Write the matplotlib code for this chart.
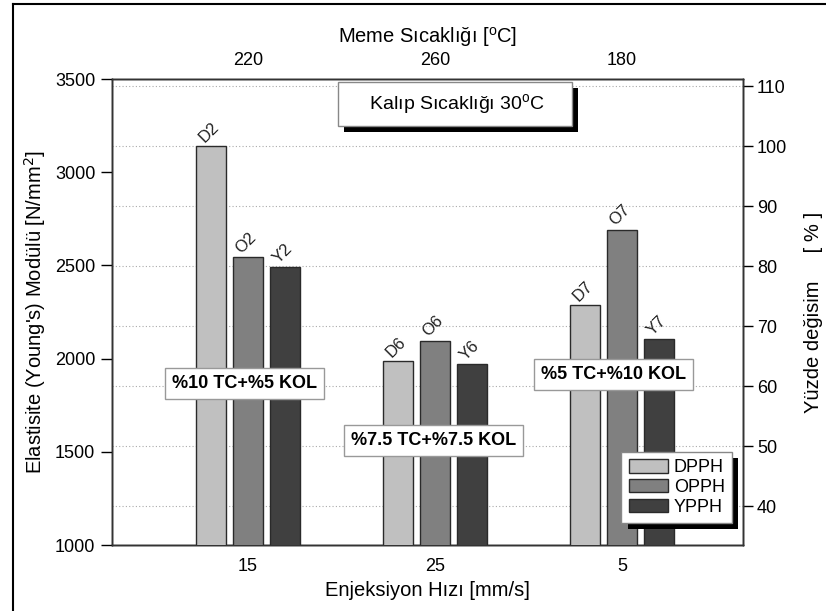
import matplotlib.pyplot as plt
import matplotlib.patheffects as pe
from matplotlib.lines import Line2D
from matplotlib.patches import Patch

plt.rcParams["font.family"] = ["Liberation Sans", "DejaVu Sans"]

# Injection speed groups (bottom axis) and nozzle temperatures (top axis)
speed_labels = ["15", "25", "5"]
nozzle_labels = ["220", "260", "180"]

# Young's modulus per blend, N/mm^2
series_names = ["DPPH", "OPPH", "YPPH"]
dpph = [3140, 1985, 2285]
opph = [2545, 2095, 2690]
ypph = [2490, 1970, 2105]
bar_tags = [["D2", "D6", "D7"], ["O2", "O6", "O7"], ["Y2", "Y6", "Y7"]]
bar_colors = ["#c0c0c0", "#808080", "#404040"]

group_notes = ["%10 TC+%5 KOL", "%7.5 TC+%7.5 KOL", "%5 TC+%10 KOL"]

fig = plt.figure(figsize=(8.26, 6.11), dpi=100)
ax = fig.add_axes([0.1356, 0.108, 0.7639, 0.7627])
ax_right = ax.twinx()
ax_top = ax.twiny()

# keep bars in front of the grid that belongs to the right axis
ax.set_zorder(ax_right.get_zorder() + 1)
ax.patch.set_visible(False)

width = 0.16
offsets = [-0.2, 0.0, 0.2]
positions = list(range(len(speed_labels)))
for values, tags, color, name, off in zip([dpph, opph, ypph], bar_tags,
                                          bar_colors, series_names, offsets):
    xs = [p + off for p in positions]
    ax.bar(xs, values, width=width, color=color, edgecolor="#2a2a2a",
           linewidth=1.0, label=name, zorder=3)
    for x, v, tag in zip(xs, values, tags):
        ax.annotate(tag, xy=(x, v), xytext=(-3, 1), textcoords="offset points",
                    rotation=45, rotation_mode="anchor", ha="left", va="bottom",
                    fontsize=12, color="#222222")

ax.set_xlim(-0.727, 2.647)
ax.set_ylim(1000, 3500)
ax.set_yticks([1000, 1500, 2000, 2500, 3000, 3500])
ax.set_xticks(positions)
ax.set_xticklabels(speed_labels)
ax.tick_params(axis="y", direction="out", length=8, width=1, labelsize=13, pad=4)
ax.tick_params(axis="x", length=0, labelsize=13, pad=9)
ax.set_xlabel("Enjeksiyon Hızı [mm/s]", fontsize=14.5, labelpad=5)
ax.set_ylabel("Elastisite (Young's) Modülü [N/mm$^2$]", fontsize=14.5, labelpad=5)

ax_right.set_ylim(33.5, 111.2)
ax_right.set_yticks([40, 50, 60, 70, 80, 90, 100, 110])
ax_right.tick_params(axis="y", direction="out", length=7, width=1, labelsize=13, pad=3)
ax_right.grid(axis="y", linestyle=(0, (1, 2)), color="#aaaaaa", linewidth=0.8)
ax_right.set_ylabel("Yüzde değisim     [ % ]", fontsize=14.5, labelpad=12)

ax_top.set_xlim(ax.get_xlim())
ax_top.set_xticks(positions)
ax_top.set_xticklabels(nozzle_labels)
ax_top.tick_params(axis="x", length=0, labelsize=13, pad=7)
ax_top.set_xlabel(r"Meme Sıcaklığı [$^\mathregular{o}$C]", fontsize=14.5, labelpad=7)

for a in (ax, ax_right, ax_top):
    for spine in a.spines.values():
        spine.set_color("#333333")
        spine.set_linewidth(1.0)

shadow = [pe.withSimplePatchShadow(offset=(4.5, -4.5), shadow_rgbFace="black", alpha=1.0)]

title_box = ax.text(0.5436, 0.946, "    Kalıp Sıcaklığı 30$^\\mathregular{o}$C    ",
                    transform=ax.transAxes, ha="center", va="center", fontsize=14,
                    zorder=6,
                    bbox=dict(boxstyle="square,pad=0.5", facecolor="white",
                              edgecolor="#888888", linewidth=1.0))
title_box.get_bbox_patch().set_path_effects(shadow)

note_spots = [(0.2103, 0.3466), (0.5093, 0.2247), (0.7948, 0.3659)]
for note, (nx, ny) in zip(group_notes, note_spots):
    ax.text(nx, ny, note, transform=ax.transAxes, ha="center", va="center",
            fontsize=13, fontweight="bold", zorder=6,
            bbox=dict(boxstyle="square,pad=0.4", facecolor="white",
                      edgecolor="#999999", linewidth=1.0))

handles = [Patch(facecolor=c, edgecolor="#2a2a2a", linewidth=1.0) for c in bar_colors]
leg = ax.legend(handles, series_names, loc="lower right",
                bbox_to_anchor=(0.9826, 0.0472), borderaxespad=0,
                fontsize=13, handlelength=2.2, handleheight=0.75,
                handletextpad=0.3, labelspacing=0.15, borderpad=0.4,
                fancybox=False, framealpha=1, edgecolor="#888888")
leg.set_zorder(7)
leg.get_frame().set_path_effects(shadow)

# outer frame of the figure (left and top edges)
fig.add_artist(Line2D([12.5 / 826, 12.5 / 826], [0, 1 - 4 / 611],
                      transform=fig.transFigure, color="black", linewidth=1.5))
fig.add_artist(Line2D([12.5 / 826, 1], [1 - 4 / 611, 1 - 4 / 611],
                      transform=fig.transFigure, color="black", linewidth=1.5))

fig.savefig("out.png", dpi=100)
